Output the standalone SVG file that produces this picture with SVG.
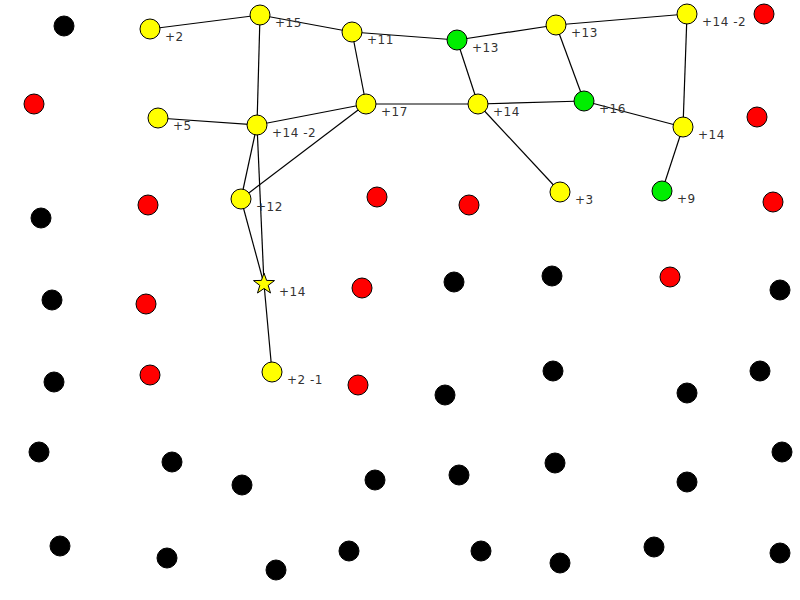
<svg xmlns="http://www.w3.org/2000/svg" width="800" height="600" viewBox="0 0 800 600">
<style>
.y{fill:#ffff00;stroke:#000;stroke-width:1}
.g{fill:#00ee00;stroke:#000;stroke-width:1}
.r{fill:#ff0000;stroke:#000;stroke-width:1}
.k{fill:#000;stroke:#000;stroke-width:1}
.e line{stroke:#000;stroke-width:1.2}
text{font-family:"DejaVu Sans",sans-serif;font-size:12px;fill:#333;letter-spacing:0.5px}
</style>
<rect width="800" height="600" fill="#fff"/>
<g class="e" id="connectors">
<line x1="150" y1="29" x2="260" y2="15"/>
<line x1="260" y1="15" x2="352" y2="32"/>
<line x1="352" y1="32" x2="457" y2="40"/>
<line x1="457" y1="40" x2="556" y2="25"/>
<line x1="556" y1="25" x2="687" y2="14"/>
<line x1="260" y1="15" x2="257" y2="125"/>
<line x1="352" y1="32" x2="366" y2="104"/>
<line x1="457" y1="40" x2="478" y2="104"/>
<line x1="556" y1="25" x2="584" y2="101"/>
<line x1="687" y1="14" x2="683" y2="127"/>
<line x1="158" y1="118" x2="257" y2="125"/>
<line x1="257" y1="125" x2="366" y2="104"/>
<line x1="366" y1="104" x2="478" y2="104"/>
<line x1="478" y1="104" x2="584" y2="101"/>
<line x1="584" y1="101" x2="683" y2="127"/>
<line x1="683" y1="127" x2="662" y2="191"/>
<line x1="478" y1="104" x2="560" y2="192"/>
<line x1="257" y1="125" x2="241" y2="199"/>
<line x1="366" y1="104" x2="241" y2="199"/>
<line x1="241" y1="199" x2="264" y2="284"/>
<line x1="257" y1="125" x2="264" y2="284"/>
<line x1="264" y1="284" x2="272" y2="372"/>
</g>
<g id="n1"><circle class="y" cx="150" cy="29" r="10"/><text x="165" y="41">+2</text></g>
<g id="n2"><circle class="y" cx="260" cy="15" r="10"/><text x="275" y="27">+15</text></g>
<g id="n3"><circle class="y" cx="352" cy="32" r="10"/><text x="367" y="44">+11</text></g>
<g id="n4"><circle class="g" cx="457" cy="40" r="10"/><text x="472" y="52">+13</text></g>
<g id="n5"><circle class="y" cx="556" cy="25" r="10"/><text x="571" y="37">+13</text></g>
<g id="n6"><circle class="y" cx="687" cy="14" r="10"/><text x="702" y="26">+14 -2</text></g>
<g id="n7"><circle class="y" cx="158" cy="118" r="10"/><text x="173" y="130">+5</text></g>
<g id="n8"><circle class="y" cx="257" cy="125" r="10"/><text x="272" y="137">+14 -2</text></g>
<g id="n9"><circle class="y" cx="366" cy="104" r="10"/><text x="381" y="116">+17</text></g>
<g id="n10"><circle class="y" cx="478" cy="104" r="10"/><text x="493" y="116">+14</text></g>
<g id="n11"><circle class="g" cx="584" cy="101" r="10"/><text x="599" y="113">+16</text></g>
<g id="n12"><circle class="y" cx="683" cy="127" r="10"/><text x="698" y="139">+14</text></g>
<g id="n13"><circle class="y" cx="241" cy="199" r="10"/><text x="256" y="211">+12</text></g>
<g id="n14"><circle class="y" cx="560" cy="192" r="10"/><text x="575" y="204">+3</text></g>
<g id="n15"><circle class="g" cx="662" cy="191" r="10"/><text x="677" y="203">+9</text></g>
<g id="n16"><polygon class="y" points="264,273 266.6,280.4 274.5,280.6 268.2,285.4 270.5,293 264,288.5 257.5,293 259.8,285.4 253.5,280.6 261.4,280.4"/><text x="279" y="296">+14</text></g>
<g id="n17"><circle class="y" cx="272" cy="372" r="10"/><text x="287" y="384">+2 -1</text></g>
<g id="red">
<circle class="r" cx="764" cy="14" r="10"/>
<circle class="r" cx="34" cy="104" r="10"/>
<circle class="r" cx="757" cy="117" r="10"/>
<circle class="r" cx="148" cy="205" r="10"/>
<circle class="r" cx="377" cy="197" r="10"/>
<circle class="r" cx="469" cy="205" r="10"/>
<circle class="r" cx="773" cy="202" r="10"/>
<circle class="r" cx="146" cy="304" r="10"/>
<circle class="r" cx="362" cy="288" r="10"/>
<circle class="r" cx="670" cy="277" r="10"/>
<circle class="r" cx="150" cy="375" r="10"/>
<circle class="r" cx="358" cy="385" r="10"/>
</g>
<g id="black">
<circle class="k" cx="64" cy="26" r="10"/>
<circle class="k" cx="41" cy="218" r="10"/>
<circle class="k" cx="52" cy="300" r="10"/>
<circle class="k" cx="454" cy="282" r="10"/>
<circle class="k" cx="552" cy="276" r="10"/>
<circle class="k" cx="780" cy="290" r="10"/>
<circle class="k" cx="54" cy="382" r="10"/>
<circle class="k" cx="445" cy="395" r="10"/>
<circle class="k" cx="553" cy="371" r="10"/>
<circle class="k" cx="687" cy="393" r="10"/>
<circle class="k" cx="760" cy="371" r="10"/>
<circle class="k" cx="39" cy="452" r="10"/>
<circle class="k" cx="172" cy="462" r="10"/>
<circle class="k" cx="242" cy="485" r="10"/>
<circle class="k" cx="375" cy="480" r="10"/>
<circle class="k" cx="459" cy="475" r="10"/>
<circle class="k" cx="555" cy="463" r="10"/>
<circle class="k" cx="687" cy="482" r="10"/>
<circle class="k" cx="782" cy="452" r="10"/>
<circle class="k" cx="60" cy="546" r="10"/>
<circle class="k" cx="167" cy="558" r="10"/>
<circle class="k" cx="276" cy="570" r="10"/>
<circle class="k" cx="349" cy="551" r="10"/>
<circle class="k" cx="481" cy="551" r="10"/>
<circle class="k" cx="560" cy="563" r="10"/>
<circle class="k" cx="654" cy="547" r="10"/>
<circle class="k" cx="780" cy="553" r="10"/>
</g>
</svg>
